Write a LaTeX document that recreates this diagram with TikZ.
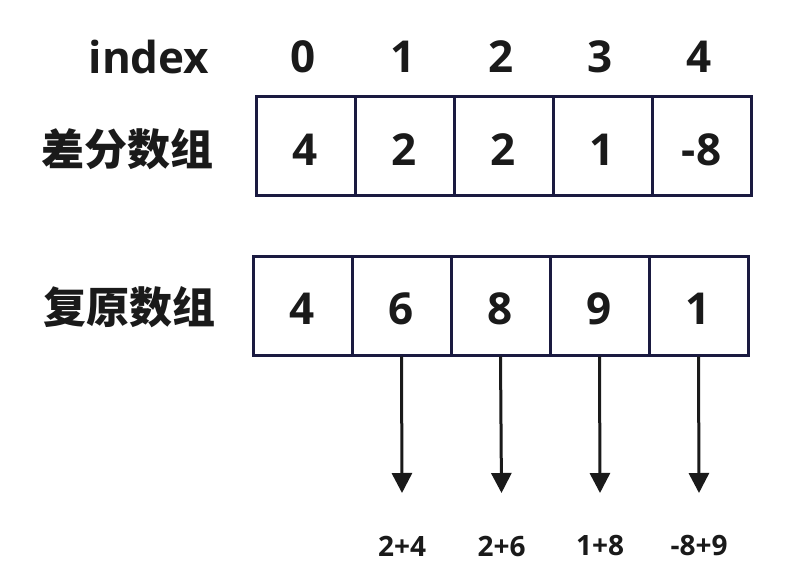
\documentclass[tikz,border=0pt]{standalone}
\usepackage{fontspec}
\setmainfont{Open Sans}
\newfontfamily\cjk{Noto Sans CJK SC}
\usetikzlibrary{arrows.meta}
\definecolor{boxline}{HTML}{1A1A40}
\definecolor{txt}{HTML}{1A1A1A}
\begin{document}
\begin{tikzpicture}[x=1pt,y=-1pt,
  cell/.style={draw=boxline,line width=3pt,minimum width=99pt,minimum height=99pt,inner sep=0pt,text height=38pt,text depth=0pt,text=txt,font=\fontsize{44}{48}\selectfont\bfseries},
  head/.style={text=txt,inner sep=0pt,font=\fontsize{44}{48}\selectfont\bfseries},
  rowlabel/.style={text=txt,inner sep=0pt,font=\cjk\bfseries\fontsize{43}{46}\selectfont},
  sumlabel/.style={text=txt,inner sep=0pt,font=\fontsize{28}{30}\selectfont\bfseries},
  arr/.style={draw=txt,line width=3pt,-{Triangle[width=20pt,length=20pt]}}]
\useasboundingbox (0,0) rectangle (806,586);
\fill[white] (0,0) rectangle (806,586);
% header
\node[head] (hidx) at (149,57) {index};
\foreach \i/\x in {0/303,1/403,2/501,3/600,4/699}
  \node[head] (h\i) at (\x,57) {\i};
% row labels
\node[rowlabel] (lab1) at (127,149) {差分数组};
\node[rowlabel] (lab2) at (129,307) {复原数组};
% difference array
\foreach \i/\v in {0/4,1/2,2/2,3/1,4/-8}
  \node[cell] (d\i) at (305.5+99*\i,146) {\v};
% restored array
\foreach \i/\v in {0/4,1/6,2/8,3/9,4/1}
  \node[cell] (r\i) at (302.5+99*\i,305.5) {\v};
% arrows and sums
\foreach \i/\x/\s in {1/402/2+4,2/501.5/2+6,3/600/1+8,4/699/-8+9}{
  \coordinate (e\i) at (\x,493);
  \draw[arr] (r\i.south) -- (e\i);
  \node[sumlabel] (s\i) at (\x,546) {\s};
}
\end{tikzpicture}
\end{document}
